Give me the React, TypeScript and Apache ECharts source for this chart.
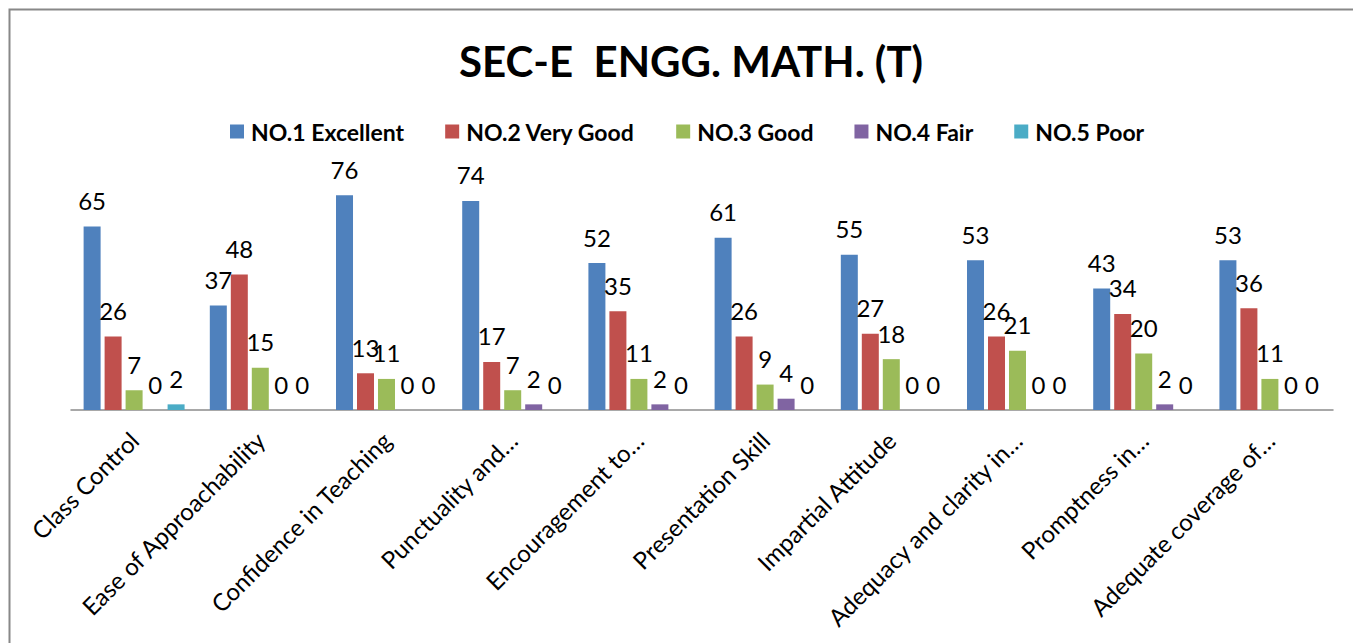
import React, { useEffect, useRef } from "react";
import * as echarts from "echarts";

const categories = [
  "Class Control",
  "Ease of Approachability",
  "Confidence in Teaching",
  "Punctuality and…",
  "Encouragement to…",
  "Presentation Skill",
  "Impartial Attitude",
  "Adequacy and clarity in…",
  "Promptness in…",
  "Adequate coverage of…",
];

const excellent = [65, 37, 76, 74, 52, 61, 55, 53, 43, 53];
const veryGood = [26, 48, 13, 17, 35, 26, 27, 26, 34, 36];
const good = [7, 15, 11, 7, 11, 9, 18, 21, 20, 11];
const fair = [0, 0, 0, 2, 2, 4, 0, 0, 2, 0];
const poor = [2, 0, 0, 0, 0, 0, 0, 0, 0, 0];

const seriesNames = ["NO.1 Excellent", "NO.2 Very Good", "NO.3 Good", "NO.4 Fair", "NO.5 Poor"];
const seriesData = [excellent, veryGood, good, fair, poor];
const colors = ["#4F81BD", "#C0504D", "#9BBB59", "#8064A2", "#4BACC6"];

const FONT = "Lato, 'Open Sans', sans-serif";

export default function App() {
  const ref = useRef<HTMLDivElement>(null);

  useEffect(() => {
    if (!ref.current) return;
    const chart = echarts.init(ref.current, null, { renderer: "svg" });
    chart.setOption({
      animation: false,
      backgroundColor: "#ffffff",
      color: colors,
      title: {
        text: "SEC-E  ENGG. MATH. (T)",
        left: 454,
        top: 35,
        textStyle: { fontFamily: FONT, fontWeight: "bold", fontSize: 42, color: "#000" },
      },
      legend: {
        top: 115,
        left: 225,
        itemWidth: 14,
        itemHeight: 14,
        itemGap: 41,
        icon: "rect",
        textStyle: { fontFamily: FONT, fontWeight: "bold", fontSize: 23, color: "#000", padding: [0, 0, 0, 2] },
        data: seriesNames,
      },
      graphic: [
        {
          type: "rect",
          shape: { x: 9.5, y: 9.5, width: 1400, height: 700 },
          style: { fill: "none", stroke: "#888888", lineWidth: 2 },
          silent: true,
        },
      ],
      grid: { left: 71, right: 20, top: 184, bottom: 233, containLabel: false },
      xAxis: {
        type: "category",
        data: categories,
        axisLine: { show: true, lineStyle: { color: "#8c8c8c", width: 1.5 } },
        axisTick: { show: false },
        axisLabel: {
          rotate: 45,
          interval: 0,
          margin: 26,
          fontFamily: FONT,
          fontSize: 24,
          color: "#000",
        },
      },
      yAxis: {
        type: "value",
        min: 0,
        max: 80,
        show: false,
        splitLine: { show: false },
      },
      series: seriesNames.map((name, i) => ({
        name,
        type: "bar",
        data: seriesData[i],
        barWidth: 17,
        barGap: "23.5%",
        itemStyle: { color: colors[i] },
        label: {
          show: true,
          position: "top",
          distance: 14,
          fontFamily: FONT,
          fontSize: 24,
          color: "#000",
        },
      })),
    });
    return () => chart.dispose();
  }, []);

  return (
    <div
      ref={ref}
      style={{ position: "fixed", left: 0, top: 0, width: 1353, height: 643 }}
    />
  );
}
